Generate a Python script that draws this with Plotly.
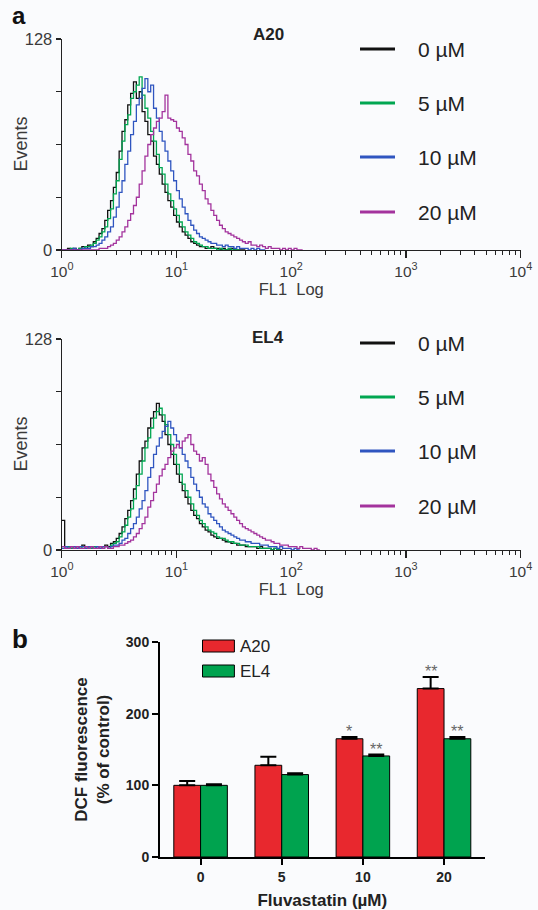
import plotly.graph_objects as go

W, H = 538, 910


def px(x):
    return x / W


def py(y):
    return 1 - y / H


# ---------------- data ----------------
# Flow-cytometry histograms: events per channel, channels spaced 0.025 decades from 10^0
CHANNEL_STEP = 0.025
conc_labels = ["0 µM", "5 µM", "10 µM", "20 µM"]

a20_0 = [0, 0, 1, 0, 1, 0, 1, 2, 1, 3, 2, 5, 7, 10, 13, 18, 24, 30, 38, 47,
         60, 72, 79, 88, 95, 102, 92, 96, 84, 78, 70, 66, 57, 52, 46, 40, 35, 30, 26, 21,
         17, 14, 11, 9, 7, 5, 4, 3, 2, 2, 1, 1, 2, 1, 1, 0, 1, 0, 0, 1, 0, 0, 0, 0, 0]
a20_5 = [0, 0, 0, 1, 0, 0, 1, 1, 2, 2, 3, 4, 6, 8, 11, 14, 19, 25, 34, 42,
         55, 66, 76, 82, 92, 96, 100, 105, 94, 86, 80, 72, 66, 58, 50, 46, 40, 34, 30, 25,
         21, 17, 14, 11, 9, 7, 5, 4, 3, 2, 2, 1, 1, 1, 0, 1, 0, 0, 1, 0, 0, 0, 0]
a20_10 = [0, 0, 0, 0, 1, 0, 0, 1, 1, 1, 2, 2, 3, 4, 6, 8, 11, 14, 20, 26,
          35, 42, 52, 60, 70, 78, 88, 92, 98, 104, 96, 100, 86, 80, 72, 66, 60, 54, 48, 42,
          36, 31, 26, 22, 18, 15, 12, 10, 8, 7, 6, 5, 4, 4, 3, 3, 2, 3, 2, 2,
          1, 2, 1, 1, 1, 0, 1, 0, 1, 0, 0, 0]
a20_20 = [0, 0, 0, 0, 0, 0, 0, 0, 0, 0, 0, 0, 0, 1, 1, 1, 2, 3, 4, 6,
          8, 11, 14, 18, 22, 27, 32, 40, 48, 57, 64, 70, 74, 78, 80, 84, 94, 80, 79, 78,
          74, 72, 68, 64, 58, 54, 48, 45, 40, 36, 31, 28, 24, 21, 18, 15, 13, 11, 10, 9,
          8, 7, 6, 5, 4, 5, 3, 3, 2, 3, 2, 1, 2, 1, 1, 1, 0, 1, 0, 1, 0, 1, 0, 0, 0]

el4_0 = [18, 2, 1, 2, 2, 1, 2, 3, 2, 1, 2, 1, 2, 1, 2, 3, 2, 4, 5, 7,
         10, 14, 19, 24, 30, 37, 46, 54, 62, 66, 74, 80, 84, 89, 82, 78, 70, 64, 58, 52,
         46, 41, 36, 32, 28, 24, 21, 19, 16, 14, 12, 11, 9, 8, 7, 7, 6, 5, 5, 4,
         4, 3, 3, 3, 2, 2, 2, 2, 1, 2, 1, 1, 1, 0, 1, 0, 0, 0]
el4_5 = [2, 1, 2, 1, 2, 2, 1, 2, 1, 2, 1, 2, 2, 1, 2, 2, 1, 3, 4, 5,
         8, 11, 15, 20, 25, 31, 39, 46, 54, 62, 68, 74, 80, 84, 86, 82, 76, 70, 64, 58,
         52, 46, 40, 36, 32, 28, 24, 21, 18, 16, 14, 12, 11, 10, 8, 7, 7, 6, 5, 5,
         4, 4, 3, 3, 3, 2, 2, 2, 2, 1, 1, 1, 1, 0, 1, 0, 0]
el4_10 = [1, 2, 1, 2, 2, 1, 2, 2, 1, 2, 2, 1, 2, 1, 2, 2, 1, 2, 3, 3,
          4, 6, 7, 10, 13, 16, 20, 25, 30, 36, 44, 50, 58, 63, 68, 72, 75, 78, 74, 70,
          66, 62, 58, 54, 50, 44, 40, 36, 32, 28, 26, 22, 20, 18, 16, 14, 12, 11, 10, 9,
          8, 7, 6, 6, 5, 5, 4, 4, 4, 3, 3, 3, 2, 2, 2, 1, 2, 1, 1, 1, 0, 1, 0, 0]
el4_20 = [2, 1, 1, 2, 1, 2, 1, 1, 2, 1, 2, 1, 1, 2, 1, 2, 1, 1, 2, 2,
          3, 3, 4, 5, 6, 8, 10, 13, 16, 20, 26, 30, 35, 40, 45, 49, 52, 56, 60, 62,
          64, 62, 66, 68, 70, 64, 60, 58, 54, 56, 52, 46, 42, 38, 34, 31, 28, 26, 24, 22,
          20, 18, 16, 14, 13, 12, 11, 10, 9, 8, 7, 6, 6, 5, 4, 4, 3, 3, 3, 2,
          2, 2, 1, 2, 1, 1, 1, 0, 1, 0, 0]

# Bar chart (panel b)
dose_categories = ["0", "5", "10", "20"]
a20_mean = [100, 128, 165, 235]
a20_err = [6, 12, 2.5, 16]
el4_mean = [100, 115, 141, 165]
el4_err = [1.5, 2, 2, 2.5]
a20_sig = ["", "", "*", "**"]
el4_sig = ["", "", "**", "**"]

# ---------------- styles ----------------
line_colors = ["#111111", "#00a651", "#2f55c0", "#a3339d"]
bar_red = "#e8282e"
bar_green = "#00a34f"
FONT = "Liberation Sans, Arial, sans-serif"
TXT = "#3a3a3a"

fig = go.Figure()

panels = [
    ("x", "y", [a20_0, a20_5, a20_10, a20_20]),
    ("x2", "y2", [el4_0, el4_5, el4_10, el4_20]),
]
for xa, ya, series in panels:
    for vals, col, lab in zip(series, line_colors, conc_labels):
        xs = [10 ** (CHANNEL_STEP * i) for i in range(len(vals))]
        fig.add_trace(go.Scatter(
            x=xs, y=vals, mode="lines", line=dict(color=col, width=1.3, shape="hv"),
            name=lab, showlegend=False, xaxis=xa, yaxis=ya))

fig.add_trace(go.Bar(
    x=dose_categories, y=a20_mean, name="A20", marker=dict(color=bar_red, line=dict(color="black", width=1)),
    error_y=dict(type="data", array=a20_err, arrayminus=[0] * len(a20_err), symmetric=False,
                 color="black", thickness=2, width=8),
    showlegend=False, xaxis="x3", yaxis="y3"))
fig.add_trace(go.Bar(
    x=dose_categories, y=el4_mean, name="EL4", marker=dict(color=bar_green, line=dict(color="black", width=1)),
    error_y=dict(type="data", array=el4_err, arrayminus=[0] * len(el4_err), symmetric=False,
                 color="black", thickness=2, width=8),
    showlegend=False, xaxis="x3", yaxis="y3"))

# ---------------- axes ----------------
decades = [1, 10, 100, 1000, 10000]
dec_text = ["10<sup>%d</sup>" % k for k in range(5)]
minor_vals = [m * 10 ** k for k in range(4) for m in range(2, 10)]


def hist_xaxis(anchor):
    return dict(
        domain=[px(61.8), px(520.6)], anchor=anchor, type="log", range=[0, 4],
        showline=True, linecolor="#222", linewidth=1.2, mirror=False,
        ticks="outside", ticklen=7, tickwidth=1.2, tickcolor="#222",
        tickvals=decades, ticktext=dec_text, tickfont=dict(size=15.5, color=TXT, family=FONT),
        minor=dict(tickvals=minor_vals, ticks="outside", ticklen=4, tickwidth=1, tickcolor="#222", showgrid=False),
        showgrid=False, zeroline=False,
        title=dict(text="FL1\u00a0 Log", font=dict(size=16.5, color=TXT, family=FONT), standoff=3),
        automargin=False,
    )


def hist_yaxis(anchor, top, bottom):
    return dict(
        domain=[py(bottom), py(top)], anchor=anchor, range=[0, 128],
        showline=True, linecolor="#222", linewidth=1.2,
        ticks="outside", ticklen=5, tickwidth=1.2, tickcolor="#222",
        tickvals=[0, 128], ticktext=["0", "128"],
        minor=dict(tickvals=[32, 64, 96], ticks="outside", ticklen=5, tickwidth=1.2, tickcolor="#222", showgrid=False),
        tickfont=dict(size=16.5, color=TXT, family=FONT),
        showgrid=False, zeroline=False,
        automargin=False,
    )


fig.update_layout(
    xaxis=hist_xaxis("y"),
    yaxis=hist_yaxis("x", 39, 250),
    xaxis2=hist_xaxis("y2"),
    yaxis2=hist_yaxis("x2", 339, 550),
    xaxis3=dict(
        domain=[px(160), px(484.6)], anchor="y3", type="category", range=[-0.5, 3.5],
        showline=True, linecolor="black", linewidth=2,
        ticks="outside", ticklen=6, tickwidth=2, tickcolor="black",
        tickfont=dict(size=14, color="#222", family=FONT, weight="bold"),
        showgrid=False, zeroline=False,
        title=dict(text="Fluvastatin (µM)", font=dict(size=17, color="#222", family=FONT, weight="bold"), standoff=10),
        automargin=False,
    ),
    yaxis3=dict(
        domain=[py(857), py(642)], anchor="x3", range=[0, 300],
        showline=True, linecolor="black", linewidth=2,
        ticks="outside", ticklen=6, tickwidth=2, tickcolor="black",
        tickvals=[0, 100, 200, 300],
        tickfont=dict(size=14, color="#222", family=FONT, weight="bold"),
        showgrid=False, zeroline=False,
        title=dict(text="DCF fluorescence<br>(% of control)",
                   font=dict(size=17, color="#222", family=FONT, weight="bold"), standoff=12),
        automargin=False,
    ),
    barmode="group", bargap=0.34, bargroupgap=0,
    width=W, height=H, autosize=False,
    margin=dict(l=0, r=0, t=0, b=0),
    paper_bgcolor="#fafbfd", plot_bgcolor="rgba(0,0,0,0)",
    font=dict(family=FONT, color=TXT),
    showlegend=False,
)

annotations = []
shapes = []


def label(x, y, text, size, color="#222", xanchor="center", **kw):
    annotations.append(dict(x=px(x), y=py(y), xref="paper", yref="paper", text=text, showarrow=False,
                            xanchor=xanchor, yanchor="middle", font=dict(size=size, color=color, family=FONT), **kw))


# panel letters and titles
label(19, 15, "<b>a</b>", 24, "#111")
label(20, 639, "<b>b</b>", 26, "#111")
label(268, 35, "<b>A20</b>", 17)
label(268, 337, "<b>EL4</b>", 17)

# y-axis titles of the histograms
label(20, 144.5, "Events", 18, TXT, textangle=-90)
label(20, 444.5, "Events", 18, TXT, textangle=-90)

# manual legends for histograms
for rows in ([49, 103, 157, 212], [343, 397, 451, 506]):
    for yy, col, lab in zip(rows, line_colors, conc_labels):
        shapes.append(dict(type="line", xref="paper", yref="paper", x0=px(360), x1=px(395),
                           y0=py(yy), y1=py(yy), line=dict(color=col, width=3)))
        label(416, yy, lab, 21, xanchor="left")

# bar legend
for yy, col, lab in ((646, bar_red, "A20"), (671, bar_green, "EL4")):
    shapes.append(dict(type="rect", xref="paper", yref="paper", x0=px(202.5), x1=px(234.4),
                       y0=py(yy + 6), y1=py(yy - 6), fillcolor=col, line=dict(color="black", width=1)))
    label(238, yy, lab, 17, xanchor="left")

# significance stars
for i, cat in enumerate(dose_categories):
    for mean, err, sig, shift in ((a20_mean, a20_err, a20_sig, -13.4), (el4_mean, el4_err, el4_sig, 13.4)):
        if sig[i]:
            annotations.append(dict(x=i, y=mean[i] + err[i], xref="x3", yref="y3", text=sig[i], showarrow=False,
                                    xshift=shift, xanchor="center", yanchor="bottom", yshift=-5,
                                    font=dict(size=16, color="#666", family=FONT)))

fig.update_layout(annotations=annotations, shapes=shapes)

fig.write_html("out.html", config={"displayModeBar": False, "staticPlot": True},
               post_script="document.body.style.margin='0px';document.body.style.overflow='hidden';")
